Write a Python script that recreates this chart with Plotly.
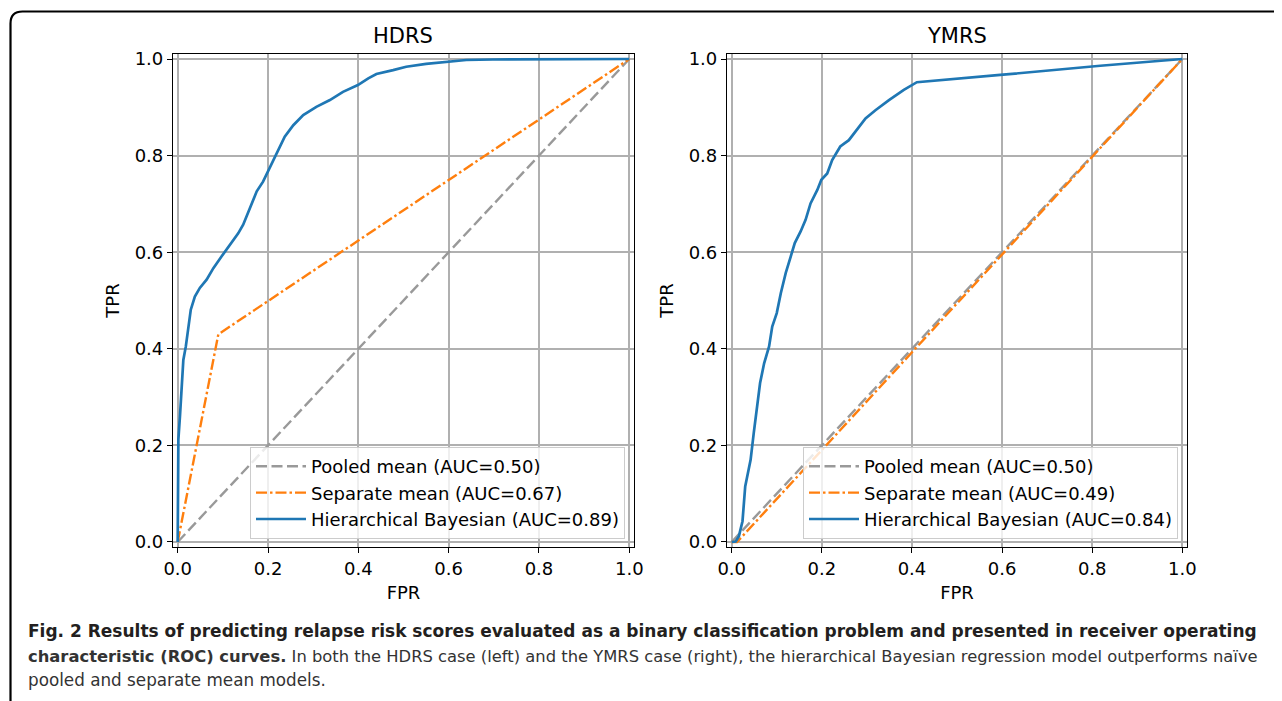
import plotly.graph_objects as go

# ---------------- data ----------------
diag_x = [0.0, 1.0]
diag_y = [0.0, 1.0]

hdrs_sep_fpr = [0.0, 0.09, 1.0]
hdrs_sep_tpr = [0.0, 0.43, 1.0]

hdrs_hb_fpr = [0.0, 0.0015, 0.005, 0.0125, 0.018, 0.029, 0.038, 0.049, 0.064, 0.079,
               0.097, 0.116, 0.134, 0.145, 0.160, 0.175, 0.189, 0.200, 0.215, 0.237,
               0.256, 0.278, 0.307, 0.337, 0.366, 0.399, 0.422, 0.440, 0.477, 0.506,
               0.550, 0.595, 0.639, 0.698, 1.0]
hdrs_hb_tpr = [0.0, 0.212, 0.26, 0.377, 0.405, 0.481, 0.508, 0.526, 0.543, 0.567,
               0.591, 0.615, 0.639, 0.657, 0.691, 0.726, 0.746, 0.767, 0.798, 0.839,
               0.863, 0.884, 0.901, 0.915, 0.932, 0.946, 0.960, 0.969, 0.977, 0.984,
               0.990, 0.994, 0.998, 0.999, 1.0]

ymrs_sep_fpr = [0.0, 0.012, 1.0]
ymrs_sep_tpr = [0.0, 0.0, 1.0]

ymrs_hb_fpr = [0.0, 0.009, 0.016, 0.024, 0.030, 0.042, 0.049, 0.057, 0.063, 0.072,
               0.083, 0.090, 0.100, 0.109, 0.120, 0.131, 0.140, 0.153, 0.164, 0.175,
               0.190, 0.199, 0.212, 0.223, 0.241, 0.260, 0.278, 0.297, 0.319, 0.349,
               0.382, 0.411, 0.596, 0.818, 1.0]
ymrs_hb_tpr = [0.0, 0.001, 0.012, 0.043, 0.115, 0.170, 0.226, 0.288, 0.329, 0.370,
               0.405, 0.446, 0.474, 0.515, 0.557, 0.591, 0.619, 0.643, 0.667, 0.701,
               0.729, 0.750, 0.763, 0.791, 0.819, 0.832, 0.853, 0.877, 0.894, 0.915,
               0.936, 0.952, 0.967, 0.986, 1.0]

panel_titles = ["HDRS", "YMRS"]
hdrs_names = ["Pooled mean (AUC=0.50)", "Separate mean (AUC=0.67)",
              "Hierarchical Bayesian (AUC=0.89)"]
ymrs_names = ["Pooled mean (AUC=0.50)", "Separate mean (AUC=0.49)",
              "Hierarchical Bayesian (AUC=0.84)"]
tick_vals = [0.0, 0.2, 0.4, 0.6, 0.8, 1.0]
tick_text = ["0.0", "0.2", "0.4", "0.6", "0.8", "1.0"]

caption_1 = ("<b>Fig. 2 Results of predicting relapse risk scores evaluated as a binary "
             "classification problem and presented in receiver operating</b>")
caption_2 = ("<b>characteristic (ROC) curves.</b> In both the HDRS case (left) and the YMRS "
             "case (right), the hierarchical Bayesian regression model outperforms naïve")
caption_3 = "pooled and separate mean models."

# ---------------- styling ----------------
W, H = 1282, 701
OFF = 8  # page body margin
BLUE, ORANGE, GRAY = "#1f77b4", "#ff7f0e", "#999999"
FONT = "DejaVu Sans"

def px(v):
    return (v - OFF) / W

def py(v):
    return 1 - (v - OFF) / H

fig = go.Figure()

def add_panel(xa, ya, legend, sep_x, sep_y, hb_x, hb_y, names):
    fig.add_trace(go.Scatter(x=diag_x, y=diag_y, mode="lines", name=names[0],
                             line=dict(color=GRAY, width=2.4, dash="11px,4.5px"),
                             xaxis=xa, yaxis=ya, legend=legend))
    fig.add_trace(go.Scatter(x=sep_x, y=sep_y, mode="lines", name=names[1],
                             line=dict(color=ORANGE, width=2.4, dash="11px,3px,2.5px,3px"),
                             xaxis=xa, yaxis=ya, legend=legend))
    fig.add_trace(go.Scatter(x=hb_x, y=hb_y, mode="lines", name=names[2],
                             line=dict(color=BLUE, width=2.7),
                             xaxis=xa, yaxis=ya, legend=legend))

add_panel("x", "y", "legend", hdrs_sep_fpr, hdrs_sep_tpr, hdrs_hb_fpr, hdrs_hb_tpr, hdrs_names)
add_panel("x2", "y2", "legend2", ymrs_sep_fpr, ymrs_sep_tpr, ymrs_hb_fpr, ymrs_hb_tpr, ymrs_names)

axis_common = dict(
    range=[-0.0104, 1.0104], tickmode="array", tickvals=tick_vals, ticktext=tick_text,
    showgrid=True, gridcolor="#b0b0b0", gridwidth=1.6, zeroline=False,
    showline=True, linecolor="black", linewidth=1.2, mirror=True,
    ticks="outside", ticklen=5, tickwidth=1.2, tickcolor="black",
    tickfont=dict(family=FONT, size=18, color="black"), automargin=False,
)

dom_left = [px(173), px(634)]
dom_right = [px(727), px(1187)]
dom_y = [py(547), py(54)]

legend_common = dict(xanchor="right", yanchor="bottom",
                     bgcolor="rgba(255,255,255,0.8)", bordercolor="#cccccc", borderwidth=1,
                     font=dict(family=FONT, size=18, color="black"), traceorder="normal",
                     itemwidth=50)

fig.update_layout(
    width=W, height=H,
    margin=dict(l=0, r=0, t=0, b=0, pad=0, autoexpand=False),
    paper_bgcolor="white", plot_bgcolor="white",
    font=dict(family=FONT, size=18, color="black"),
    xaxis=dict(axis_common, domain=dom_left, anchor="y",
               title=dict(text="FPR", font=dict(size=18), standoff=8)),
    yaxis=dict(axis_common, domain=dom_y, anchor="x",
               title=dict(text="TPR", font=dict(size=18), standoff=10)),
    xaxis2=dict(axis_common, domain=dom_right, anchor="y2",
                title=dict(text="FPR", font=dict(size=18), standoff=8)),
    yaxis2=dict(axis_common, domain=dom_y, anchor="x2",
                title=dict(text="TPR", font=dict(size=18), standoff=10)),
    legend=dict(legend_common, x=px(625), y=py(539)),
    legend2=dict(legend_common, x=px(1178), y=py(539)),
    showlegend=True,
)

# panel titles
for title, dom in zip(panel_titles, [dom_left, dom_right]):
    fig.add_annotation(text=title, x=(dom[0] + dom[1]) / 2, y=py(36), xref="paper", yref="paper",
                       xanchor="center", yanchor="middle", showarrow=False,
                       font=dict(family=FONT, size=21, color="black"))

# caption
CAP_FONT = "DejaVu Sans"
for txt, yy, fs, col in zip([caption_1, caption_2, caption_3], [631, 656, 680],
                            [17, 16.35, 16.8], ["#231f20", "#333333", "#333333"]):
    fig.add_annotation(text=txt, x=px(26), y=py(yy), xref="paper", yref="paper",
                       xanchor="left", yanchor="middle", showarrow=False, align="left",
                       font=dict(family=CAP_FONT, size=fs, color=col))

# outer rounded frame (top-left corner)
x0, y0, r = 10.5, 11.5, 12
fig.add_shape(type="path", xref="paper", yref="paper",
              path=(f"M {px(x0)},{py(H + 20)} L {px(x0)},{py(y0 + r)} "
                    f"Q {px(x0)},{py(y0)} {px(x0 + r)},{py(y0)} L {px(W + 20)},{py(y0)}"),
              line=dict(color="black", width=2.2))

fig.write_html("out.html")
